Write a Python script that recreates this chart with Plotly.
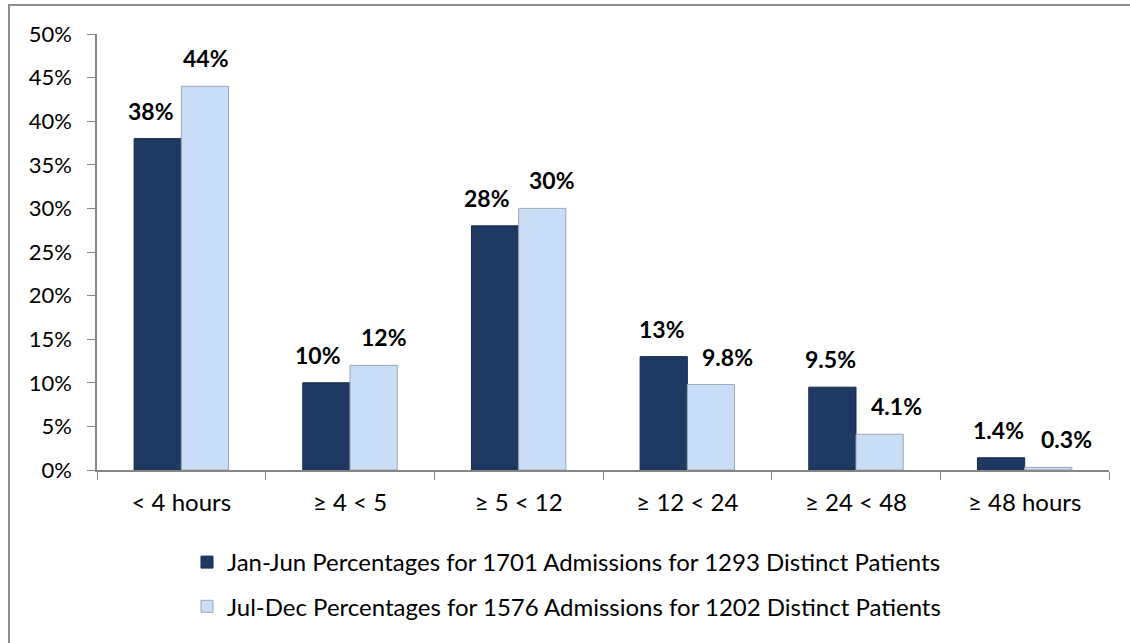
import plotly.graph_objects as go

categories = ["< 4 hours", "≥ 4 < 5", "≥ 5 < 12", "≥ 12 < 24", "≥ 24 < 48", "≥ 48 hours"]
jan_jun = [38, 10, 28, 13, 9.5, 1.4]
jul_dec = [44, 12, 30, 9.8, 4.1, 0.3]
series_names = [
    "Jan-Jun Percentages for 1701 Admissions for 1293 Distinct Patients",
    "Jul-Dec Percentages for 1576 Admissions for 1202 Distinct Patients",
]

# styles
FONT = "Lato"
DARK = "#1F3A62"
LIGHT = "#C9DDF6"
DARK_LINE = "#15294A"
LIGHT_LINE = "#9AA6B4"
dark_xshift = [-7, -8, -8, -2, -2, -3]
light_xshift = [1, 10, 10, 17, 17, 18]

fig = go.Figure()
fig.add_trace(go.Bar(
    x=categories, y=[v / 100 for v in jan_jun], name=series_names[0],
    marker=dict(color=DARK, line=dict(color=DARK_LINE, width=1)),
    legendgroup="a", offsetgroup="a",
))
fig.add_trace(go.Bar(
    x=categories, y=[v / 100 for v in jul_dec], name=series_names[1],
    marker=dict(color=LIGHT, line=dict(color=LIGHT_LINE, width=1)),
    legendgroup="b", offsetgroup="b",
))

# data labels
for i, c in enumerate(categories):
    for vals, off, xs in ((jan_jun, -0.5, dark_xshift), (jul_dec, 0.5, light_xshift)):
        v = vals[i]
        fig.add_annotation(
            x=i + off * 0.28, y=v / 100, xref="x", yref="y",
            text=f"<b>{v:.2g}%</b>", showarrow=False,
            xanchor="center", yanchor="bottom", yshift=12, xshift=xs[i],
            font=dict(family=FONT, size=23, color="#000000"),
        )

# outer chart border
fig.add_shape(type="rect", xref="paper", yref="paper",
              x0=(9 - 97) / 1012, y0=-0.5, x1=1.2, y1=(470 - 5) / 436,
              line=dict(color="#8C8C8C", width=2), fillcolor="rgba(0,0,0,0)",
              layer="below")

fig.update_layout(
    width=1130, height=643,
    margin=dict(l=97, r=21, t=34, b=173),
    paper_bgcolor="white", plot_bgcolor="white",
    barmode="group", bargap=0.44, bargroupgap=0,
    font=dict(family=FONT, size=20, color="#000000"),
    showlegend=True,
    legend=dict(
        orientation="v", x=(187 - 97) / 1012, xanchor="left",
        y=-(540 - 470) / 436, yanchor="top",
        font=dict(family=FONT, size=24, color="#000000"),
        traceorder="grouped", tracegroupgap=10,
        bgcolor="rgba(0,0,0,0)",
    ),
)
fig.update_xaxes(
    type="category", showline=True, linecolor="#868686", linewidth=1.5,
    ticks="outside", tickson="boundaries", ticklen=8, tickcolor="#868686",
    showgrid=False, tickfont=dict(family=FONT, size=24), range=[-0.5, 5.5],
    ticklabelstandoff=10,
)
fig.update_yaxes(
    range=[0, 0.5], dtick=0.05, tickformat=".0%", showline=True,
    linecolor="#868686", linewidth=1.5, ticks="outside", ticklen=8,
    tickcolor="#868686", showgrid=False, zeroline=False,
    tickfont=dict(family=FONT, size=22), ticklabelstandoff=11,
)

fig.write_html("out.html")
